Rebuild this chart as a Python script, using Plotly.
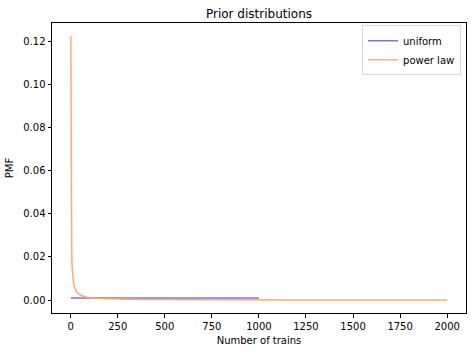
import plotly.graph_objects as go

# Uniform prior (1..1000)
uniform_x = [1, 1000]
uniform_pmf = [0.001, 0.001]

# Power law prior (1..2000)
power_x = [1, 2, 3, 4, 5, 6, 8, 10, 12, 15, 20, 25, 30, 40, 50, 60, 80, 100, 125, 150,
           200, 250, 300, 400, 500, 750, 1000, 1250, 1500, 1750, 2000]
power_pmf = [0.1223, 0.0611, 0.0408, 0.0306, 0.0245, 0.0204, 0.0153, 0.0122, 0.0102, 0.0082,
             0.0061, 0.0049, 0.0041, 0.0031, 0.0024, 0.0020, 0.0015, 0.0012, 0.0010, 0.0008,
             0.0006, 0.0005, 0.0004, 0.0003, 0.00024, 0.00016, 0.00012, 0.0001, 0.00008,
             0.00007, 0.00006]

x_ticks = [0, 250, 500, 750, 1000, 1250, 1500, 1750, 2000]
y_ticks = [0.00, 0.02, 0.04, 0.06, 0.08, 0.10, 0.12]

font = "DejaVu Sans"
fig = go.Figure()
fig.add_trace(go.Scatter(x=uniform_x, y=uniform_pmf, mode="lines", name="uniform",
                         line=dict(color="#8e6fc0", width=1.5)))
fig.add_trace(go.Scatter(x=power_x, y=power_pmf, mode="lines", name="power law",
                         line=dict(color="#fdab73", width=1.5)))

axis_common = dict(showgrid=False, zeroline=False, showline=True, linecolor="black",
                   linewidth=1, mirror=True, ticks="outside", ticklen=3.5, tickwidth=1,
                   tickcolor="black", tickfont=dict(family=font, size=10, color="black"))

fig.update_layout(
    width=472, height=352,
    margin=dict(l=52, r=6, t=23, b=39),
    paper_bgcolor="white", plot_bgcolor="white",
    font=dict(family=font, size=10, color="black"),
    title=dict(text="Prior distributions", x=(52 + 466) / 2 / 472, xanchor="center",
               y=1 - 14 / 352, yanchor="middle", font=dict(family=font, size=12, color="black")),
    xaxis=dict(range=[-99, 2100], tickvals=x_ticks, ticktext=[str(v) for v in x_ticks],
               title=dict(text="Number of trains", font=dict(family=font, size=10), standoff=6),
               **axis_common),
    yaxis=dict(range=[-0.00595, 0.1284], tickvals=y_ticks, ticktext=[f"{v:.2f}" for v in y_ticks],
               title=dict(text="PMF", font=dict(family=font, size=10), standoff=7),
               **axis_common),
    legend=dict(x=0.988, y=0.992, xanchor="right", yanchor="top", bgcolor="rgba(255,255,255,0.8)",
                bordercolor="#d9d9d9", borderwidth=1, font=dict(family=font, size=10),
                tracegroupgap=0, itemwidth=30),
    showlegend=True,
)

fig.write_html("out.html")
